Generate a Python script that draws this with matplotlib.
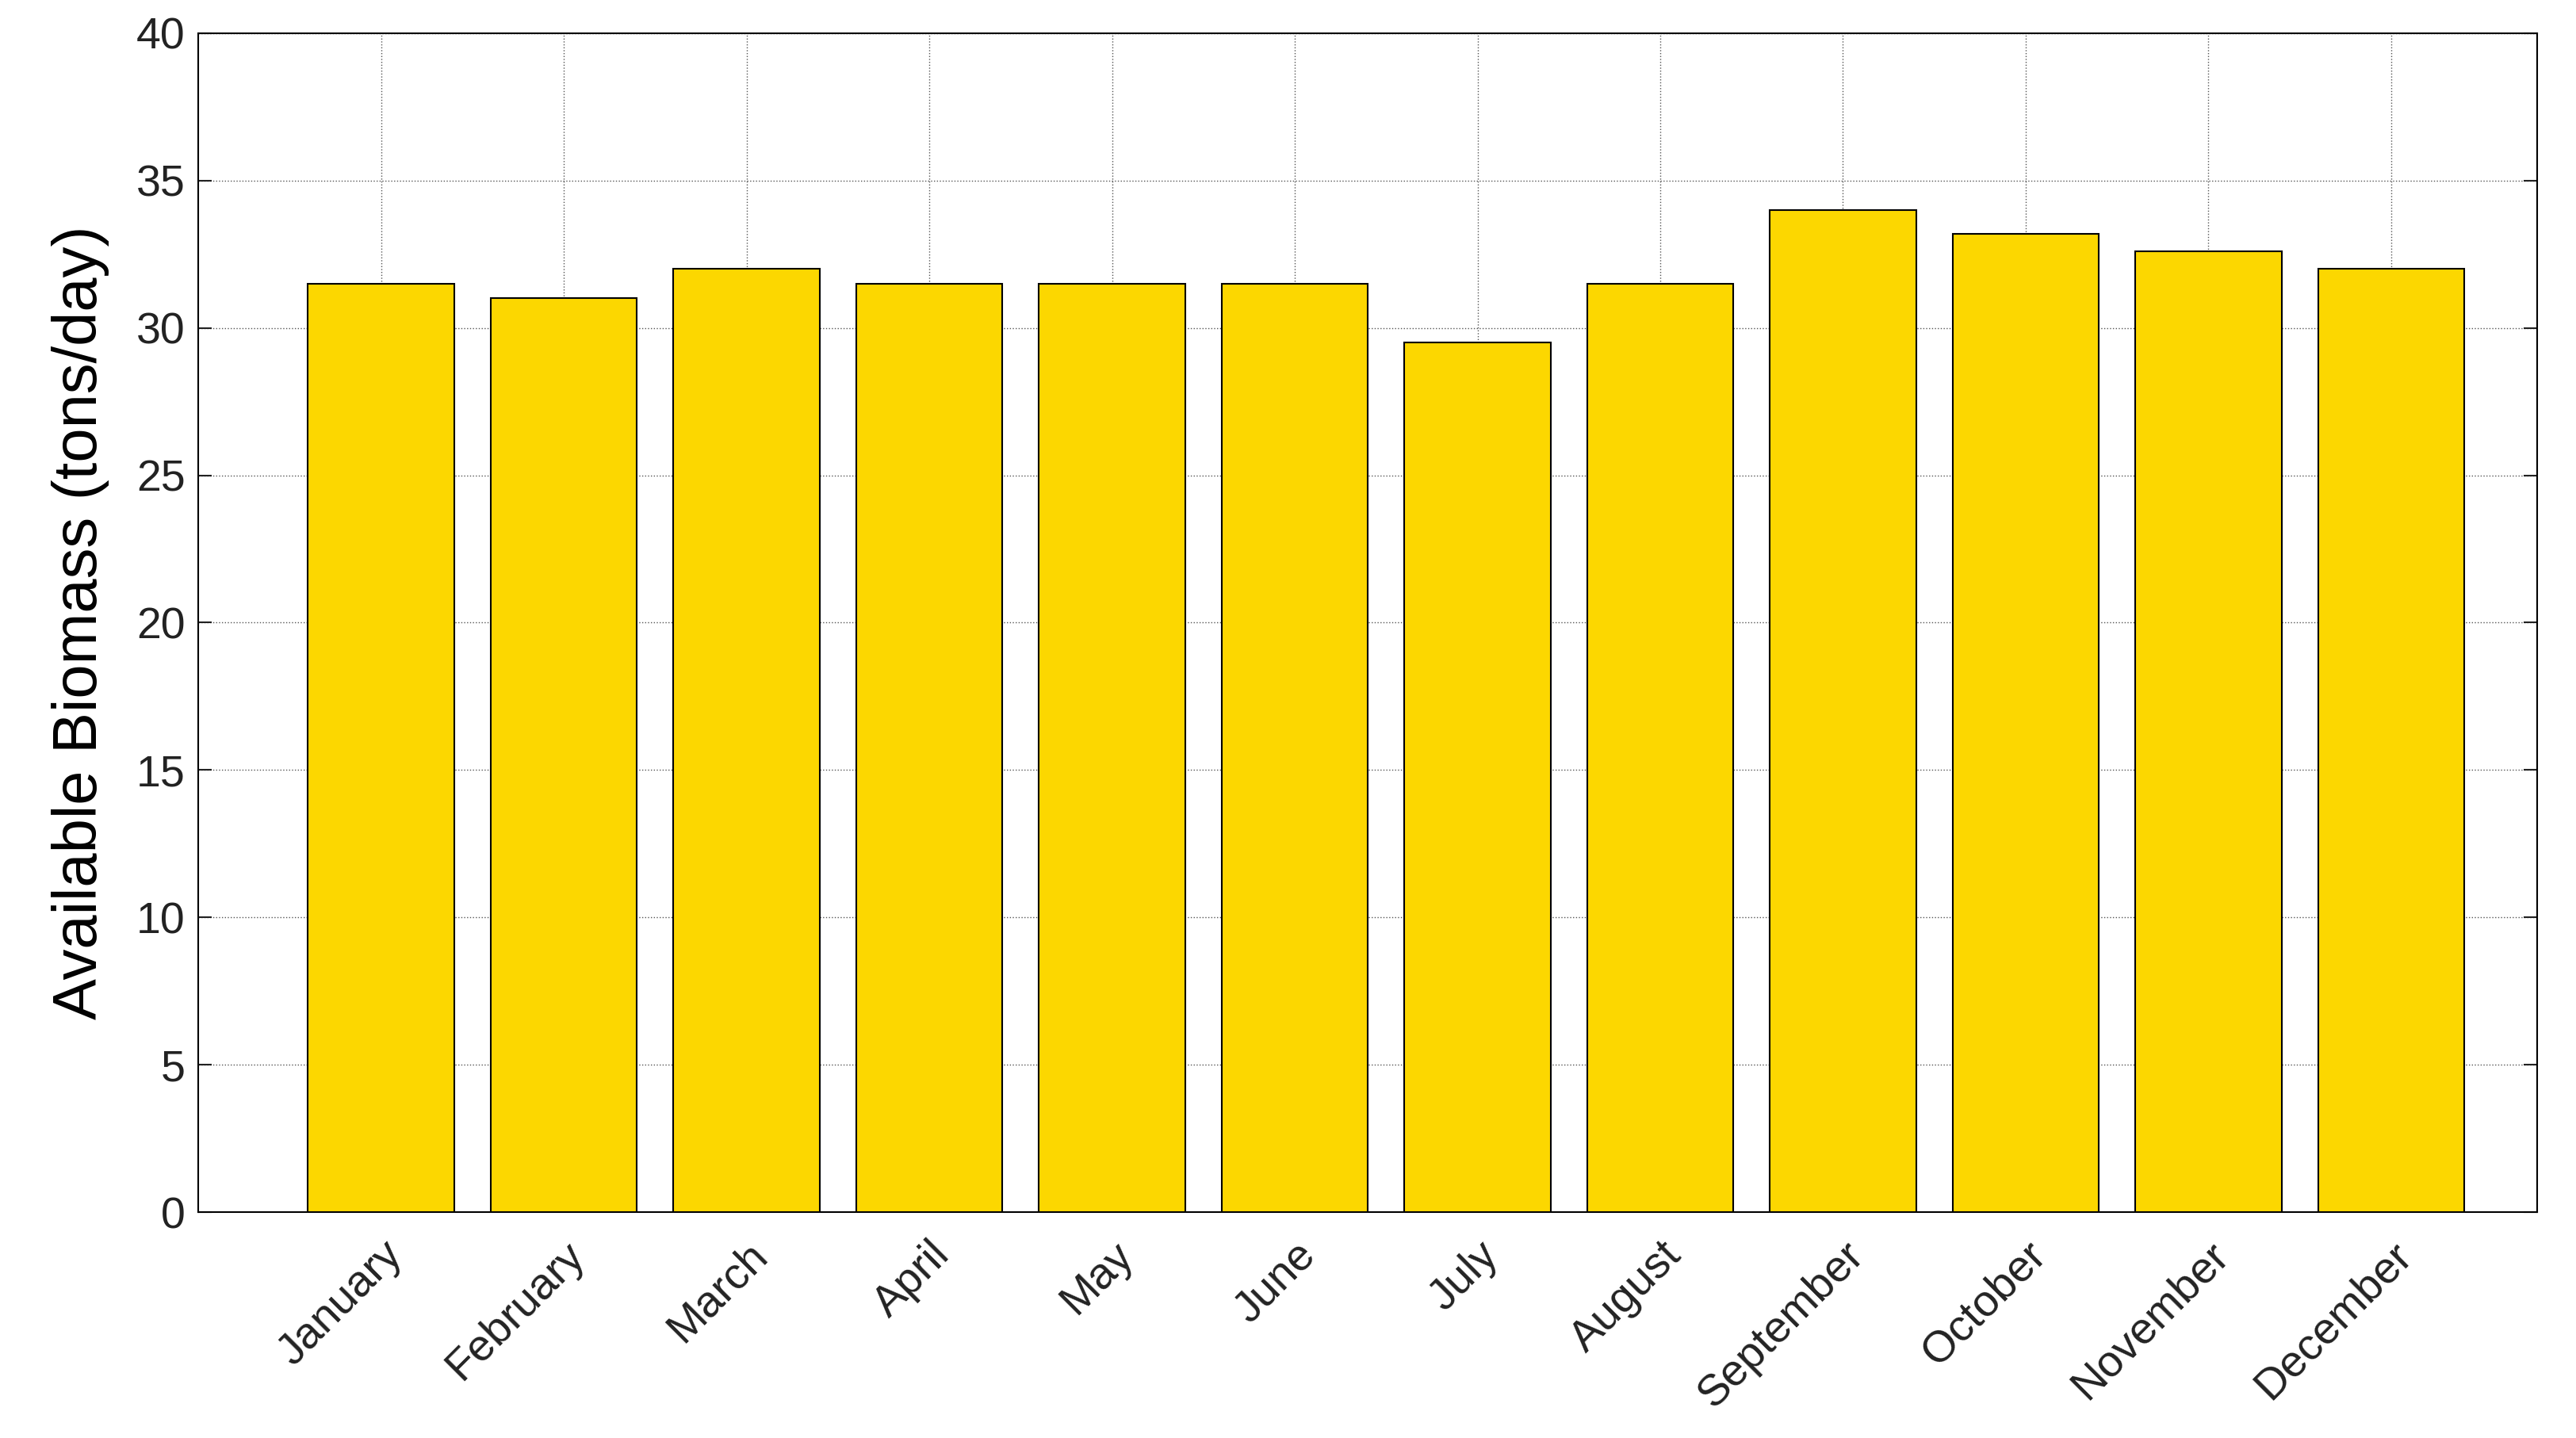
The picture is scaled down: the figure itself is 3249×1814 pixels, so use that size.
import matplotlib
matplotlib.use("Agg")
import matplotlib.pyplot as plt

months = ["January","February","March","April","May","June","July","August",
          "September","October","November","December"]
biomass = [31.5, 31.0, 32.0, 31.5, 31.5, 31.5, 29.5, 31.5, 34.0, 33.2, 32.6, 32.0]
yticks = [0, 5, 10, 15, 20, 25, 30, 35, 40]

plt.rcParams['font.family'] = ['Liberation Sans', 'DejaVu Sans']
fig = plt.figure(figsize=(32.49, 18.14), dpi=100)
ax = fig.add_axes([0.077, 0.157, 0.908, 0.820])
x = list(range(len(months)))
ax.bar(x, biomass, width=0.8, color='#FCD700', edgecolor='black', linewidth=1.5, zorder=3)
ax.set_xlim(-1, 11.8)
ax.set_ylim(0, 40)
ax.set_yticks(yticks)
ax.set_xticks(x)
ax.set_xticklabels(months, rotation=45, ha='right', rotation_mode='anchor')
ax.grid(True, color='#555555', linestyle=':', linewidth=1.0, zorder=0)
ax.set_axisbelow(True)
ax.tick_params(axis='both', labelsize=40, direction='in', length=12, width=1.5, colors='#222222')
ax.tick_params(axis='y', right=True, pad=12)
ax.tick_params(axis='x', pad=20)
for s in ax.spines.values():
    s.set_linewidth(1.5)
ax.set_ylabel('Available Biomass (tons/day)', fontsize=56, labelpad=24)
fig.savefig('out.png', dpi=100)
